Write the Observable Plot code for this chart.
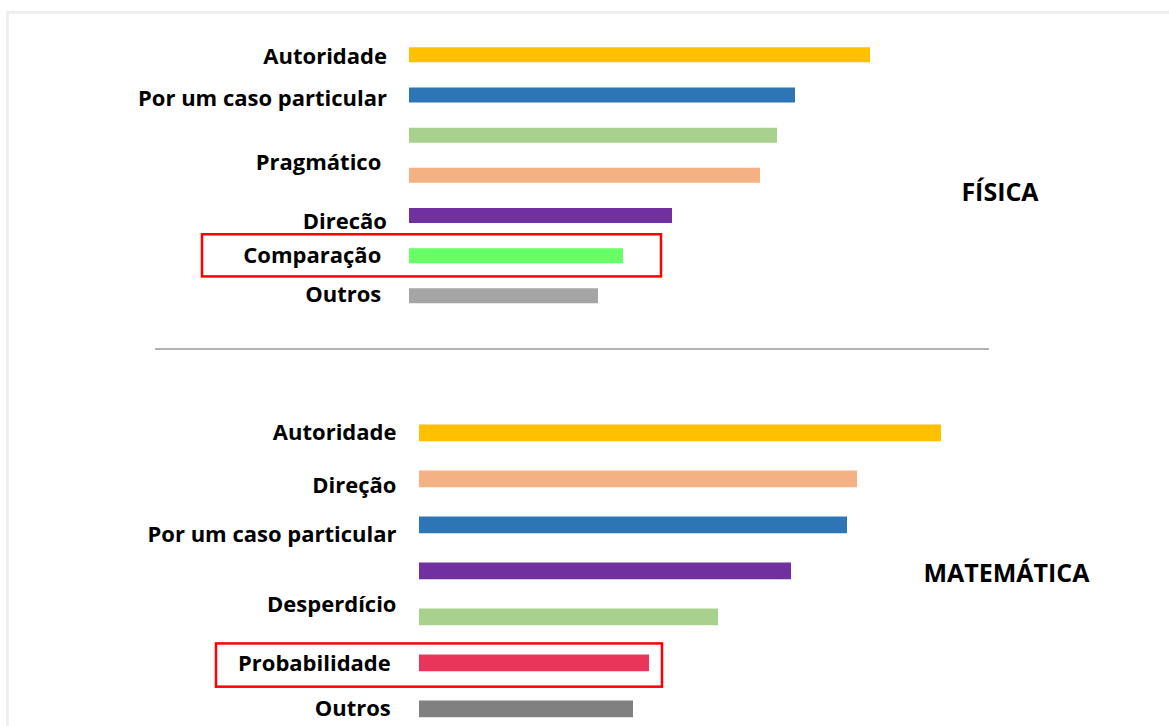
<!DOCTYPE html>
<html>
<head>
<meta charset="utf-8">
<script src="https://cdn.jsdelivr.net/npm/d3@7"></script>
<script src="https://cdn.jsdelivr.net/npm/@observablehq/plot@0.6"></script>
<style>
  html, body { margin: 0; padding: 0; background: #fff; }
  #page { position: relative; width: 1169px; height: 726px; overflow: hidden; font-family: "Open Sans", sans-serif; }
  #border { position: absolute; left: 6px; top: 11px; width: 1300px; height: 900px; border: 3px solid #efefef; box-sizing: border-box; }
  #sep { position: absolute; left: 155px; top: 347.5px; width: 834px; height: 0; border-top: 2px solid #b3b3b3; }
  .panel { position: absolute; left: 0; }
  .panel svg text { white-space: pre; }
  #top { top: 0; }
  #bottom { top: 340px; }
</style>
</head>
<body>
<div id="page">
  <div id="border"></div>
  <div id="sep"></div>
  <div class="panel" id="top"></div>
  <div class="panel" id="bottom"></div>
</div>
<script>
// ---------- FÍSICA ----------
const fisicaTitle = "FÍSICA";
const fisicaValues = [46.1, 38.6, 36.8, 35.1, 26.3, 21.4, 18.9];
const fisicaLabels = ["Autoridade", "Por um caso particular", "Pragmático ", "Direcão", "Comparação ", "Outros "];
const fisicaLabelRows = [0.06, 1.1, 2.69, 4.16, 5.01, 5.99];
const fisicaHighlight = "Comparação";

// ---------- MATEMÁTICA ----------
const matTitle = "MATEMÁTICA";
const matValues = [52.2, 43.8, 42.8, 37.2, 29.9, 23.0, 21.4];
const matLabels = ["Autoridade", "Direção", "Por um caso particular", "Desperdício", "Probabilidade ", "Outros "];
const matLabelRows = [0.0, 1.15, 2.23, 3.74, 5.02, 6.0];
const matHighlight = "Probabilidade";

const fisicaColors = ["#FFC000", "#2E75B6", "#A9D18E", "#F4B183", "#7030A0", "#66FF66", "#A5A5A5"];
const matColors = ["#FFC000", "#F4B183", "#2E75B6", "#7030A0", "#A9D18E", "#EB345A", "#808080"];

function panel({values, labels, labelRows, highlight, title, colors, height, yRange, xStart, barWidth, labelGap, box, titlePos}) {
  const bars = values.map((v, i) => ({row: i, value: v}));
  const labs = labels.map((l, i) => ({label: l, row: labelRows[i]}));
  const hl = labs.find(d => d.label.trim() === highlight);
  const hlBar = bars[Math.round(hl.row)];
  return Plot.plot({
    width: 1169,
    height,
    margin: 0,
    x: {domain: [0, 50], range: [xStart, xStart + 500], axis: null},
    y: {domain: [0, 6], range: yRange, axis: null},
    color: {type: "ordinal", domain: d3.range(values.length), range: colors},
    style: {background: "transparent", overflow: "visible"},
    marks: [
      Plot.ruleY(bars, {y: "row", x1: 0, x2: "value", stroke: "row", strokeWidth: barWidth}),
      Plot.text(labs, {
        x: 0, y: "row", text: "label", textAnchor: "end", dx: -labelGap,
        fontSize: 22, fontWeight: "bold", fontFamily: "Open Sans", fill: "#000"
      }),
      Plot.rect([hlBar], {
        x1: box.x1, x2: d => d.value + box.pad,
        y1: d => d.row + box.top, y2: d => d.row + box.bottom,
        fill: "none", stroke: "#FF0000", strokeWidth: 2.5
      }),
      Plot.text([title], {
        x: titlePos[0], y: titlePos[1], text: d => d, textAnchor: "middle",
        fontSize: 25, fontWeight: "bold", fontFamily: "Open Sans", fill: "#000"
      })
    ]
  });
}

document.getElementById("top").appendChild(panel({
  values: fisicaValues, labels: fisicaLabels, labelRows: fisicaLabelRows,
  highlight: fisicaHighlight, title: fisicaTitle, colors: fisicaColors,
  height: 340, yRange: [54.3, 295.3], xStart: 409, barWidth: 15, labelGap: 22.5,
  box: {x1: -20.7, pad: 3.8, top: -0.52, bottom: 0.53},
  titlePos: [59.05, 3.44]
}));

document.getElementById("bottom").appendChild(panel({
  values: matValues, labels: matLabels, labelRows: matLabelRows,
  highlight: matHighlight, title: matTitle, colors: matColors,
  height: 386, yRange: [92.3, 368.3], xStart: 419, barWidth: 16.7, labelGap: 23,
  box: {x1: -20.3, pad: 1.3, top: -0.41, bottom: 0.53},
  titlePos: [58.7, 3.08]
}));
</script>
</body>
</html>
